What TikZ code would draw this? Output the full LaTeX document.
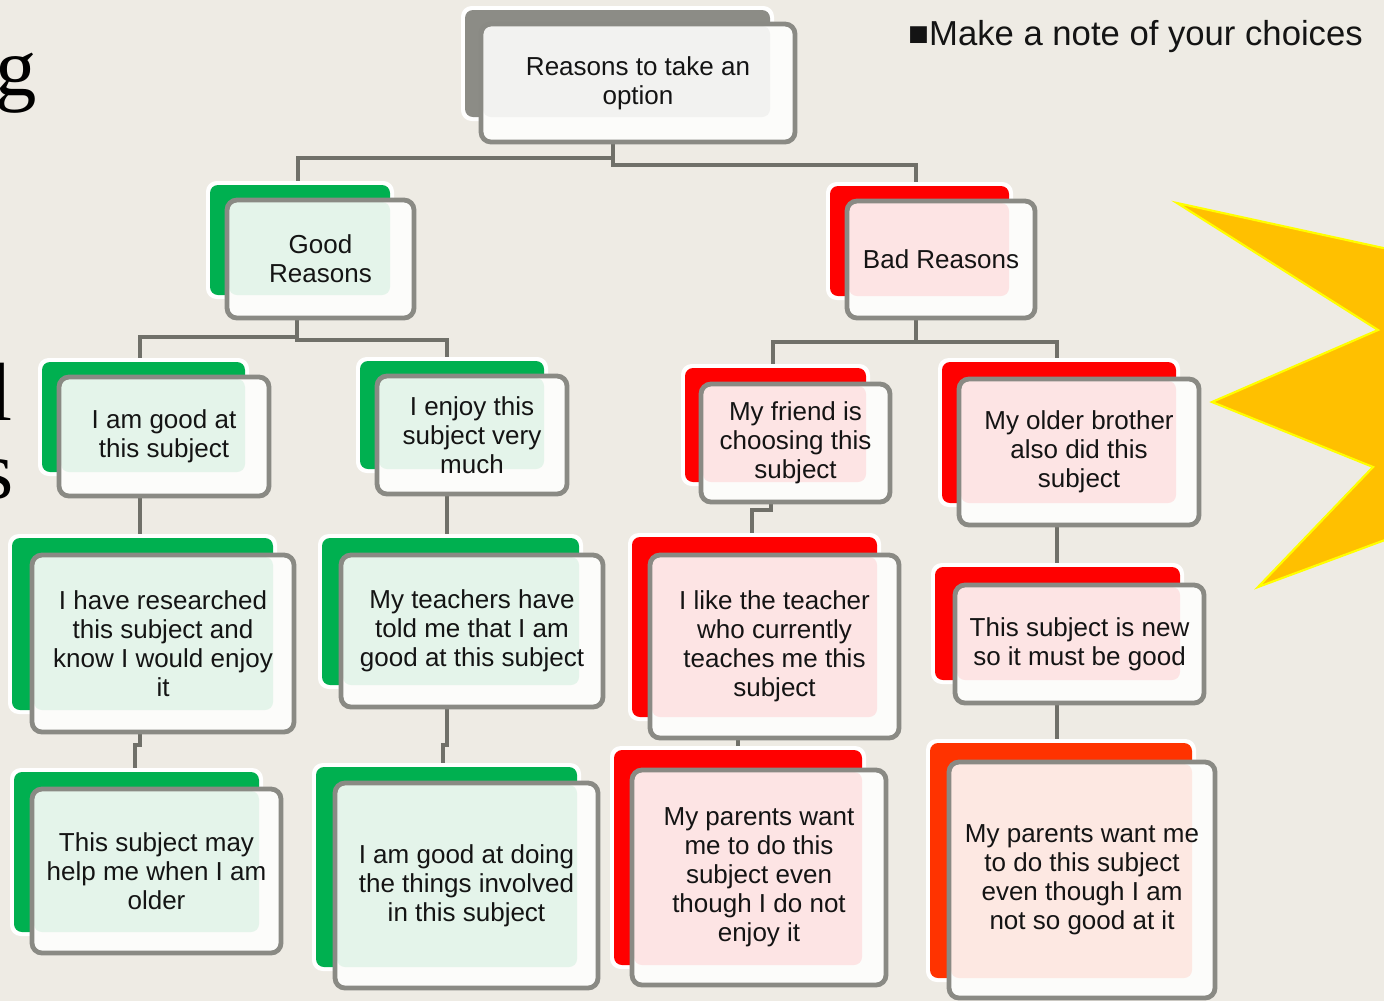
\documentclass[tikz,border=0pt]{standalone}
\usepackage{fontspec}
\setmainfont{Liberation Sans}
\newfontfamily\titleserif{Liberation Serif}
\definecolor{bgc}{HTML}{EEEBE4}
\definecolor{connc}{HTML}{707069}
\definecolor{borderc}{HTML}{8A8A84}
\definecolor{frontc}{HTML}{FCFCFA}
\definecolor{txtc}{HTML}{141414}
\definecolor{gback}{HTML}{00B050}
\definecolor{gtint}{HTML}{E4F4EA}
\definecolor{rback}{HTML}{FF0000}
\definecolor{rtint}{HTML}{FDE4E4}
\definecolor{oback}{HTML}{FF3300}
\definecolor{otint}{HTML}{FDE8E2}
\definecolor{kback}{HTML}{8C8C86}
\definecolor{ktint}{HTML}{F2F2F0}
\definecolor{starfill}{HTML}{FFC000}
\definecolor{starline}{HTML}{FFFF00}
\pgfdeclarelayer{bglayer}
\pgfsetlayers{bglayer,main}
\tikzset{
  conn/.style={draw=connc, line width=3.6pt},
  cardline/.style={draw=borderc, line width=3.6pt, rounded corners=7.5pt,
    inner sep=0pt, outer sep=0pt, align=center, text=txtc,
    font=\fontsize{19.5}{21.8}\selectfont},
  frag/.style={font=\titleserif\fontsize{62}{62}\selectfont, anchor=base east, inner sep=0pt, text=black},
}
\newcommand\mycard[3]{\def\cardname{#1}\def\cardbc{#2}\def\cardtc{#3}\mycardB}
\def\mycardB(#1,#2,#3,#4)(#5,#6,#7,#8)#9{%
  \fill[white, rounded corners=8pt] (#1-4,#2-4) rectangle (#3+4,#4+4);
  \fill[\cardbc, rounded corners=6pt] (#1,#2) rectangle (#3,#4);
  \fill[frontc, rounded corners=7.5pt] (#5,#6) rectangle (#7,#8);
  \fill[\cardtc, rounded corners=6pt] (#5+2,#6+2) rectangle (#3,#4);
  \node[cardline, minimum width={(#7-#5)*0.75pt}, minimum height={(#8-#6)*0.75pt}]
    (\cardname) at ({(#5+#7)/2},{(#6+#8)/2}) {#9};
}
\begin{document}
\begin{tikzpicture}[x=0.75pt,y=-0.75pt]
\useasboundingbox (0,0) rectangle (1384,1001);
\begin{pgfonlayer}{bglayer}
\fill[bgc] (0,0) rectangle (1384,1001);
\end{pgfonlayer}
\clip (0,0) rectangle (1384,1001);

% star
\filldraw[fill=starfill, draw=starline, line width=1.6pt, line join=miter]
  (1177,203) -- (1420,256) -- (1420,527) -- (1258,587) -- (1373,467)
  -- (1212,402) -- (1378,330) -- cycle;

% title fragments
\node[frag] (tg) at (37,95) {g};
\node[frag] (tl) at (13,420) {l};
\node[frag] (ts) at (14,498) {s};

% note
\node[font=\fontsize{26}{30}\selectfont, anchor=base east, inner sep=0pt, text=txtc] (note) at (1363,45) {■Make a note of your choices};

% cards
\mycard{root}{kback}{ktint}(465,10,770,117)(481,24,795,142){Reasons to take an\\option}
\mycard{good}{gback}{gtint}(210,185,390,295)(227,200,414,318){Good\\Reasons}
\mycard{bad}{rback}{rtint}(830,186,1009,296)(847,201,1035,318){Bad Reasons}
\mycard{g1}{gback}{gtint}(42,362,245,472)(59,377,269,496){I am good at\\this subject}
\mycard{g2}{gback}{gtint}(360,361,544,469)(377,376,567,494){I enjoy this\\subject very\\much}
\mycard{g3}{gback}{gtint}(12,538,273,710)(32,555,294,732){I have researched\\this subject and\\know I would enjoy\\it}
\mycard{g4}{gback}{gtint}(322,538,579,685)(341,555,603,707){My teachers have\\told me that I am\\good at this subject}
\mycard{g5}{gback}{gtint}(14,772,259,932)(32,789,281,953){This subject may\\help me when I am\\older}
\mycard{g6}{gback}{gtint}(316,767,577,967)(335,783,598,988){I am good at doing\\the things involved\\in this subject}
\mycard{b1}{rback}{rtint}(685,368,866,482)(701,384,890,502){My friend is\\choosing this\\subject}
\mycard{b2}{rback}{rtint}(942,362,1176,503)(959,379,1199,525){My older brother\\also did this\\subject}
\mycard{b3}{rback}{rtint}(632,537,877,717)(650,555,899,738){I like the teacher\\who currently\\teaches me this\\subject}
\mycard{b4}{rback}{rtint}(935,567,1180,680)(955,585,1204,703){This subject is new\\so it must be good}
\mycard{b5}{rback}{rtint}(614,750,862,965)(632,770,886,985){My parents want\\me to do this\\subject even\\though I do not\\enjoy it}
\mycard{b6}{oback}{otint}(930,743,1192,978)(949,762,1215,998){My parents want me\\to do this subject\\even though I am\\not so good at it}

% connectors
\coordinate (a0) at (613,158);
\coordinate (a1) at (298,158);
\coordinate (a2) at (613,165);
\coordinate (a3) at (916,165);
\coordinate (c0) at (297,337);
\coordinate (c1) at (140,337);
\coordinate (c2) at (297,340);
\coordinate (c3) at (447,340);
\coordinate (d0) at (140,745);
\coordinate (d1) at (135,745);
\coordinate (e0) at (447,745);
\coordinate (e1) at (443,745);
\coordinate (f0) at (916,342);
\coordinate (f1) at (773,342);
\coordinate (f2) at (1057,342);
\coordinate (h0) at (771,510);
\coordinate (h1) at (752,510);
\coordinate (k0) at (738,745);
\begin{pgfonlayer}{bglayer}
\draw[conn] (root.south -| a0) -- (a0) -- (a1) -- (good.north -| a1);
\draw[conn] (a0) -- (a2) -- (a3) -- (bad.north -| a3);
\draw[conn] (good.south -| c0) -- (c0) -- (c1) -- (g1.north -| c1);
\draw[conn] (c0) -- (c2) -- (c3) -- (g2.north -| c3);
\draw[conn] (g1.south -| c1) -- (g3.north -| c1);
\draw[conn] (g3.south -| d0) -- (d0) -- (d1) -- (g5.north -| d1);
\draw[conn] (g2.south -| c3) -- (g4.north -| c3);
\draw[conn] (g4.south -| e0) -- (e0) -- (e1) -- (g6.north -| e1);
\draw[conn] (bad.south -| f0) -- (f0) -- (f1) -- (b1.north -| f1);
\draw[conn] (f0) -- (f2) -- (b2.north -| f2);
\draw[conn] (b1.south -| h0) -- (h0) -- (h1) -- (b3.north -| h1);
\draw[conn] (b3.south -| k0) -- (b5.north -| k0);
\draw[conn] (b2.south -| f2) -- (b4.north -| f2);
\draw[conn] (b4.south -| f2) -- (b6.north -| f2);
\end{pgfonlayer}
\end{tikzpicture}
\end{document}
